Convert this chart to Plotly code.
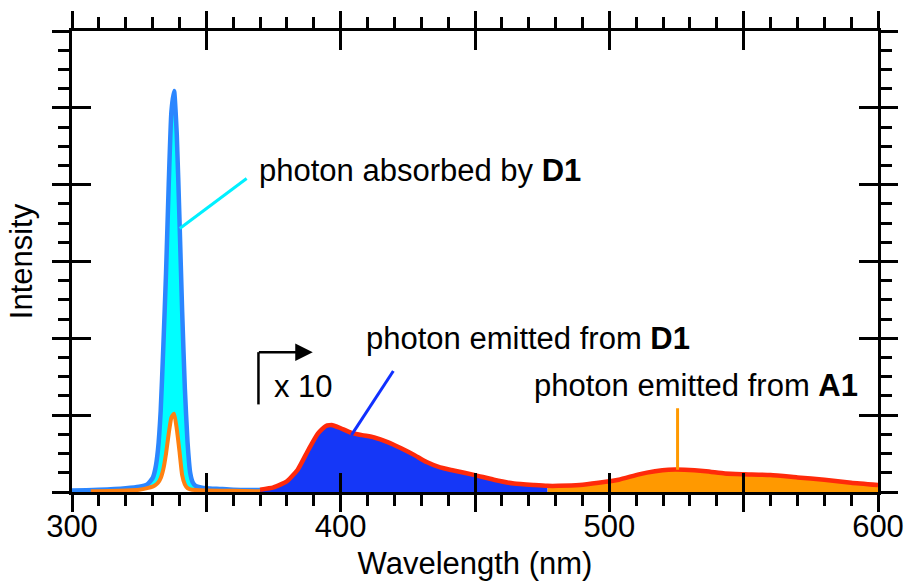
import plotly.graph_objects as go

# ---------------- data ----------------
# excitation-region traces (Intensity units, 1 = one major y interval)
exc_wl = [300, 310, 320, 325, 328, 330, 331, 332, 333, 334, 335, 336, 337, 338,
          339, 340, 341, 342, 343, 344, 345, 346, 348, 350, 355, 360, 370]
exc_d1 = [0.02, 0.03, 0.05, 0.07, 0.1, 0.18, 0.3, 0.55, 1.05, 1.9, 2.85, 4.0, 4.95, 5.22,
          4.65, 3.55, 2.35, 1.35, 0.65, 0.25, 0.12, 0.08, 0.06, 0.05, 0.04, 0.03, 0.025]

a1_wl = [307, 320, 325, 328, 330, 331, 332, 333, 334, 335, 336, 337, 338, 339,
         340, 341, 342, 343, 344, 346, 350, 360, 370]
a1_val = [0.01, 0.02, 0.03, 0.05, 0.07, 0.09, 0.12, 0.18, 0.3, 0.5, 0.76, 0.97, 1.02, 0.82,
          0.53, 0.22, 0.1, 0.05, 0.035, 0.025, 0.02, 0.015, 0.01]

# emission spectrum (x 10)
em_wl = [370, 375, 380, 384, 388, 391.5, 394.5, 397, 400, 404, 408, 412.5, 417.5, 422.5,
         427.5, 432, 437, 442, 450, 457, 464.5, 472, 477, 481, 489, 496, 503.5, 511,
         517, 522, 528, 536, 543, 550, 560, 570, 580, 590, 600]
em_val = [0.03, 0.06, 0.14, 0.29, 0.55, 0.76, 0.86, 0.87, 0.83, 0.77, 0.74, 0.71, 0.65, 0.57,
          0.48, 0.39, 0.32, 0.28, 0.22, 0.16, 0.11, 0.09, 0.08, 0.08, 0.09, 0.12, 0.16, 0.23,
          0.27, 0.29, 0.29, 0.27, 0.24, 0.23, 0.22, 0.19, 0.16, 0.12, 0.09]
split_wl = 477  # boundary between D1 (blue) and A1 (orange) emission

x_tickvals = [300, 350, 400, 450, 500, 550, 600]
x_ticktext = ["300", "", "400", "", "500", "", "600"]
x_range = [300, 600]
y_range = [0, 6]

FONT = "Liberation Sans, Arial, Helvetica, sans-serif"
FS = 31

d1_wl = [w for w in em_wl if w <= split_wl]
d1_val = [v for w, v in zip(em_wl, em_val) if w <= split_wl]
acc_wl = [w for w in em_wl if w >= split_wl]
acc_val = [v for w, v in zip(em_wl, em_val) if w >= split_wl]

fig = go.Figure()
# invisible base for cyan fill
fig.add_trace(go.Scatter(x=a1_wl, y=a1_val, mode="lines", line=dict(width=0, color="#ff8010", shape="spline", smoothing=0.5),
                         hoverinfo="skip"))
# D1 absorption line with cyan fill down to the orange curve
fig.add_trace(go.Scatter(x=exc_wl, y=exc_d1, mode="lines", fill="tonexty", fillcolor="#00ffff",
                         line=dict(width=4.5, color="#2b86ff", shape="spline", smoothing=0.5)))
# orange excitation line
fig.add_trace(go.Scatter(x=a1_wl, y=a1_val, mode="lines",
                         line=dict(width=4, color="#ff8010", shape="spline", smoothing=0.5)))
# emission fills
fig.add_trace(go.Scatter(x=d1_wl, y=d1_val, mode="lines", fill="tozeroy", fillcolor="#1537f7",
                         line=dict(width=0, color="#1537f7", shape="spline", smoothing=0.5)))
fig.add_trace(go.Scatter(x=acc_wl, y=acc_val, mode="lines", fill="tozeroy", fillcolor="#ff9900",
                         line=dict(width=0, color="#ff9900", shape="spline", smoothing=0.5)))
# red emission outline
fig.add_trace(go.Scatter(x=em_wl, y=em_val, mode="lines",
                         line=dict(width=4.5, color="#ff2a0a", shape="spline", smoothing=0.5)))
# dummy trace for the overlay axes (inside ticks)
fig.add_trace(go.Scatter(x=[300], y=[0], xaxis="x2", yaxis="y2", mode="markers",
                         marker=dict(opacity=0), hoverinfo="skip"))

axis_common = dict(showgrid=False, zeroline=False, showline=True, linewidth=2.5,
                   linecolor="black", tickcolor="black", tickwidth=2.5, automargin=False)

fig.update_layout(
    width=906, height=581,
    margin=dict(l=72, r=28, t=31, b=89),
    plot_bgcolor="white", paper_bgcolor="white",
    showlegend=False,
    font=dict(family=FONT, size=FS, color="black"),
    xaxis=dict(range=x_range, tickmode="array", tickvals=x_tickvals, ticktext=x_ticktext,
               ticks="outside", ticklen=17, mirror="ticks", ticklabelstandoff=-12,
               minor=dict(dtick=10, ticks="outside", ticklen=11, tickwidth=2.5, tickcolor="black", showgrid=False),
               title=dict(text="Wavelength (nm)", standoff=20, font=dict(size=FS)),
               tickfont=dict(size=FS), **axis_common),
    yaxis=dict(range=y_range, tickmode="linear", tick0=0, dtick=1, showticklabels=False,
               ticks="outside", ticklen=17, mirror="ticks",
               minor=dict(dtick=0.25, ticks="outside", ticklen=11, tickwidth=2.5, tickcolor="black", showgrid=False),
               title=dict(text="Intensity", standoff=11, font=dict(size=FS)),
               **axis_common),
    xaxis2=dict(range=x_range, overlaying="x", anchor="y2", side="bottom", tickmode="array",
                tickvals=x_tickvals, showticklabels=False, ticks="inside", ticklen=19,
                mirror="ticks", **axis_common),
    yaxis2=dict(range=y_range, overlaying="y", anchor="x2", side="left", tickmode="linear",
                tick0=0, dtick=1, showticklabels=False, ticks="inside", ticklen=19,
                mirror="ticks", **axis_common),
)

ann_font = dict(family=FONT, size=FS, color="black")
# pointer lines
fig.add_shape(type="line", x0=340.1, y0=3.43, x1=365.0, y1=4.08, xref="x", yref="y",
              line=dict(color="#00f0ff", width=3))
fig.add_shape(type="line", x0=404.0, y0=0.74, x1=419.6, y1=1.575, xref="x", yref="y",
              line=dict(color="#1030ff", width=3))
fig.add_shape(type="line", x0=525.4, y0=0.29, x1=525.4, y1=1.09, xref="x", yref="y",
              line=dict(color="#ff9900", width=3))
# x10 bracket arrow
fig.add_shape(type="line", x0=369.4, y0=1.14, x1=369.4, y1=1.82, xref="x", yref="y",
              line=dict(color="black", width=2.5))
fig.add_annotation(x=389.6, y=1.82, ax=369.0, ay=1.82, xref="x", yref="y", axref="x", ayref="y",
                   text="", showarrow=True, arrowhead=2, arrowsize=1.4, arrowwidth=2.5, arrowcolor="black")

fig.add_annotation(x=369.0, y=4.18, xref="x", yref="y", text="photon absorbed by <b>D1</b>",
                   showarrow=False, xanchor="left", yanchor="middle", font=ann_font)
fig.add_annotation(x=408.8, y=2.0, xref="x", yref="y", text="photon emitted from <b>D1</b>",
                   showarrow=False, xanchor="left", yanchor="middle", font=ann_font)
fig.add_annotation(x=593.3, y=1.39, xref="x", yref="y", text="photon emitted from <b>A1</b>",
                   showarrow=False, xanchor="right", yanchor="middle", font=ann_font)
fig.add_annotation(x=374.6, y=1.37, xref="x", yref="y", text="x 10",
                   showarrow=False, xanchor="left", yanchor="middle", font=ann_font)

fig.write_html("out.html", config={"displayModeBar": False},
               post_script="document.body.style.margin='0';")
